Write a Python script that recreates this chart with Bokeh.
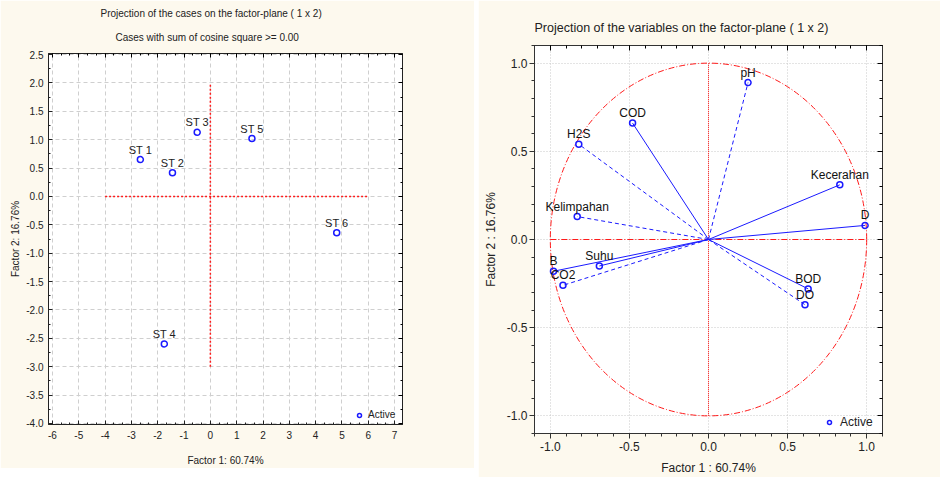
from bokeh.plotting import figure
from bokeh.layouts import row, column
from bokeh.models import (SingleIntervalTicker, PrintfTickFormatter, CustomJSTickFormatter,
                          LinearAxis, Title, Legend, LegendItem, Spacer)
from bokeh.core.properties import value
from bokeh.embed import file_html
from bokeh.resources import INLINE

# ---------------- data ----------------
case_labels = ["ST 1", "ST 2", "ST 3", "ST 4", "ST 5", "ST 6"]
case_f1 = [-2.66, -1.44, -0.50, -1.75, 1.58, 4.80]
case_f2 = [0.65, 0.42, 1.13, -2.60, 1.02, -0.64]

var_labels = ["pH", "COD", "H2S", "Kelimpahan", "Suhu", "B", "CO2", "Kecerahan", "D", "BOD", "DO"]
var_f1 = [0.25, -0.48, -0.82, -0.83, -0.69, -0.98, -0.92, 0.83, 0.99, 0.63, 0.61]
var_f2 = [0.89, 0.66, 0.54, 0.13, -0.15, -0.18, -0.26, 0.31, 0.08, -0.28, -0.37]
dashed_vars = ["pH", "H2S", "Kelimpahan", "CO2", "DO"]

left_ref_h = [-4, 6]     # horizontal reference line extent (factor 1)
left_ref_v = [-3, 2]     # vertical reference line extent (factor 2)
right_ref = [-1, 1]

x_label = "Factor 1: 60.74%"
y_label = "Factor 2: 16.76%"
x_label_r = "Factor 1 : 60.74%"
y_label_r = "Factor 2 : 16.76%"

# ---------------- style ----------------
CREAM = "#fdf9ee"
LFONT = "Liberation Sans"
SANS = "Liberation Sans"
BLUE = "#1a1aff"
RED = "#ff1a1a"
INK = "#222222"

blank = CustomJSTickFormatter(code="return ''")

# ================= left chart =================
p1 = figure(frame_width=354, frame_height=371, x_range=(-6.15, 7.3), y_range=(-4.02, 2.52),
            output_backend="svg", toolbar_location=None,
            min_border_left=48, min_border_right=72, min_border_top=53, min_border_bottom=40,
            background_fill_color="white", border_fill_color=CREAM,
            outline_line_color=INK)

xt1 = SingleIntervalTicker(interval=1, num_minor_ticks=3)
yt1 = SingleIntervalTicker(interval=0.5, num_minor_ticks=2)
p1.xaxis.ticker = xt1
p1.yaxis.ticker = yt1
p1.xgrid.ticker = xt1
p1.ygrid.ticker = yt1
p1.xaxis.formatter = PrintfTickFormatter(format="%d")
p1.yaxis.formatter = PrintfTickFormatter(format="%.1f")
for g in (p1.xgrid, p1.ygrid):
    g.grid_line_color = "#cfcfcf"
    g.grid_line_dash = "4 3"
    g.grid_line_width = 1

for ax in (p1.xaxis[0], p1.yaxis[0]):
    ax.major_tick_in = 4
    ax.major_tick_out = 0
    ax.minor_tick_in = 2
    ax.minor_tick_out = 0
    ax.axis_line_color = INK
    ax.major_tick_line_color = INK
    ax.minor_tick_line_color = INK
    ax.major_label_text_font = LFONT
    ax.major_label_text_font_size = "10px"
    ax.major_label_text_color = INK
    ax.axis_label_text_font = LFONT
    ax.axis_label_text_font_size = "10px"
    ax.axis_label_text_font_style = "normal"
    ax.axis_label_text_color = INK

p1.xaxis.axis_label = x_label
p1.yaxis.axis_label = y_label
p1.xaxis.major_label_standoff = 6
p1.xaxis.axis_label_standoff = 13
p1.yaxis.major_label_standoff = 5
p1.yaxis.axis_label_standoff = 2

for loc, tk in (("above", xt1), ("right", yt1)):
    a = LinearAxis(ticker=tk, formatter=blank, major_tick_in=4, major_tick_out=0,
                   minor_tick_in=2, minor_tick_out=0, axis_line_color=INK,
                   major_label_text_font_size="1px", major_label_standoff=0)
    p1.add_layout(a, loc)

p1.add_layout(Title(text="Cases with sum of cosine square >= 0.00", align="left", offset=67,
                    text_font=LFONT, text_font_size="10px", text_font_style="normal",
                    text_color=INK, standoff=22), "above")
p1.add_layout(Title(text="Projection of the cases on the factor-plane ( 1 x 2)", align="left",
                    offset=52, text_font=LFONT, text_font_size="10px", text_font_style="normal",
                    text_color=INK, standoff=0), "above")

p1.segment(x0=[left_ref_h[0]], y0=[0], x1=[left_ref_h[1]], y1=[0],
           line_color=RED, line_dash="2 2", line_width=1.5)
p1.segment(x0=[0], y0=[left_ref_v[0]], x1=[0], y1=[left_ref_v[1]],
           line_color=RED, line_dash="2 2", line_width=1.5)

r1 = p1.scatter(case_f1, case_f2, marker="circle", size=6, fill_color=None,
                line_color=BLUE, line_width=1.5)
p1.text(case_f1, case_f2, text=case_labels, text_align="center", text_baseline="bottom",
        y_offset=-4, text_font=value(LFONT), text_font_size="11px", text_color=INK)

lg1 = Legend(items=[LegendItem(label="Active", renderers=[r1])], location=(306, 4),
             background_fill_alpha=0, border_line_color=None, padding=0, margin=0,
             glyph_width=10, glyph_height=10, label_standoff=4,
             label_text_font=LFONT, label_text_font_size="10px", label_text_color=INK)
p1.add_layout(lg1, "center")

# ================= right chart =================
p2 = figure(frame_width=348, frame_height=388, x_range=(-1.1, 1.1), y_range=(-1.1, 1.1),
            output_backend="svg", toolbar_location=None,
            min_border_left=56, min_border_right=58, min_border_top=45, min_border_bottom=40,
            background_fill_color="white", border_fill_color=CREAM,
            outline_line_color="#333333")

xt2 = SingleIntervalTicker(interval=0.5, num_minor_ticks=5)
yt2 = SingleIntervalTicker(interval=0.5, num_minor_ticks=5)
p2.xaxis.ticker = xt2
p2.yaxis.ticker = yt2
p2.xgrid.ticker = xt2
p2.ygrid.ticker = yt2
p2.xaxis.formatter = PrintfTickFormatter(format="%.1f")
p2.yaxis.formatter = PrintfTickFormatter(format="%.1f")
for g in (p2.xgrid, p2.ygrid):
    g.grid_line_color = "#c8c8c8"
    g.grid_line_dash = "1 2"
    g.grid_line_width = 1

for ax in (p2.xaxis[0], p2.yaxis[0]):
    ax.major_tick_in = 0
    ax.major_tick_out = 5
    ax.minor_tick_in = 0
    ax.minor_tick_out = 3
    ax.axis_line_color = "#333333"
    ax.major_tick_line_color = "#333333"
    ax.minor_tick_line_color = "#333333"
    ax.major_label_text_font = SANS
    ax.major_label_text_font_size = "12px"
    ax.major_label_text_color = INK
    ax.axis_label_text_font = SANS
    ax.axis_label_text_font_size = "12px"
    ax.axis_label_text_font_style = "normal"
    ax.axis_label_text_color = INK

p2.xaxis.axis_label = x_label_r
p2.yaxis.axis_label = y_label_r
p2.xaxis.major_label_standoff = 3
p2.xaxis.axis_label_standoff = 7
p2.yaxis.major_label_standoff = 2
p2.yaxis.axis_label_standoff = 6

for loc, tk in (("above", xt2), ("right", yt2)):
    a = LinearAxis(ticker=tk, formatter=blank, major_tick_in=5, major_tick_out=0,
                   minor_tick_in=3, minor_tick_out=0, axis_line_color="#333333",
                   major_label_text_font_size="1px", major_label_standoff=0)
    p2.add_layout(a, loc)

p2.add_layout(Title(text="Projection of the variables on the factor-plane (  1 x   2)",
                    align="left", offset=0, text_font=SANS, text_font_size="12.5px",
                    text_font_style="normal", text_color=INK, standoff=21), "above")

p2.ellipse(x=[0], y=[0], width=[right_ref[1] - right_ref[0]], height=[right_ref[1] - right_ref[0]],
           fill_color=None, line_color=RED, line_dash="6 2 1 2", line_width=1)
p2.segment(x0=[right_ref[0]], y0=[0], x1=[right_ref[1]], y1=[0],
           line_color=RED, line_dash="6 2 1 2", line_width=1.2)
p2.segment(x0=[0], y0=[right_ref[0]], x1=[0], y1=[right_ref[1]],
           line_color=RED, line_dash="1 1", line_width=1)

sx = [x for x, l in zip(var_f1, var_labels) if l not in dashed_vars]
sy = [y for y, l in zip(var_f2, var_labels) if l not in dashed_vars]
dx = [x for x, l in zip(var_f1, var_labels) if l in dashed_vars]
dy = [y for y, l in zip(var_f2, var_labels) if l in dashed_vars]
p2.segment(x0=0, y0=0, x1=sx, y1=sy, line_color=BLUE, line_width=1)
p2.segment(x0=0, y0=0, x1=dx, y1=dy, line_color=BLUE, line_width=1, line_dash="4 3")

r2 = p2.scatter(var_f1, var_f2, marker="circle", size=6, fill_color=None,
                line_color=BLUE, line_width=1.5)
p2.text(var_f1, var_f2, text=var_labels, text_align="center", text_baseline="bottom",
        y_offset=-3, text_font=value(SANS), text_font_size="12px", text_color="#111111")

lg2 = Legend(items=[LegendItem(label="Active", renderers=[r2])], location=(290, 4),
             background_fill_alpha=0, border_line_color=None, padding=0, margin=0,
             glyph_width=10, glyph_height=10, label_standoff=6,
             label_text_font=SANS, label_text_font_size="12px", label_text_color=INK)
p2.add_layout(lg2, "center")

layout = row(column(p1), Spacer(width=4, height=464), column(p2))
open("out.html", "w").write(file_html(layout, INLINE))
